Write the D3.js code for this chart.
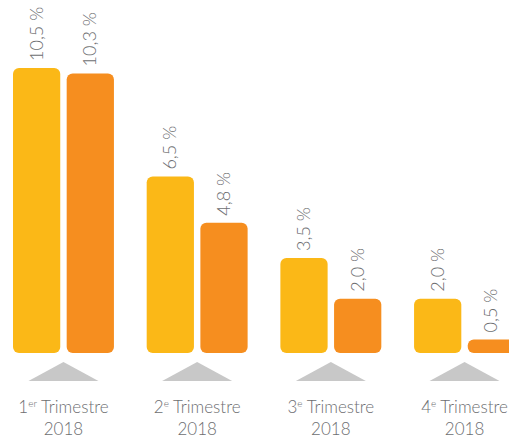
<!DOCTYPE html>
<html>
<head>
<meta charset="utf-8">
<script src="https://cdn.jsdelivr.net/npm/d3@7"></script>
<style>
  html, body { margin: 0; padding: 0; background: #fff; }
  svg { display: block; font-family: "Lato", "Open Sans", sans-serif; }
</style>
</head>
<body>
<svg id="chart" width="509" height="439"></svg>
<script>
// Quarterly rates, two series per quarter
const quarters = ["T1", "T2", "T3", "T4"];
const quarterNum = ["1", "2", "3", "4"];
const quarterSup = ["er", "e", "e", "e"];
const quarterYear = ["2018", "2018", "2018", "2018"];
const seriesKeys = ["a", "b"];
const seriesA = [10.5, 6.5, 3.5, 2.0];
const seriesB = [10.3, 4.8, 2.0, 0.5];
const seriesColors = ["#FBB817", "#F68E1F"];

const svg = d3.select("#chart");
const baseY = 353;

const x = d3.scaleBand().domain(quarters).range([13, 515]).paddingInner(0.245).paddingOuter(0);
const xs = d3.scaleBand().domain(seriesKeys).range([0, x.bandwidth()]).paddingInner(0.12);
const y = d3.scaleLinear().domain([0, 10.5]).range([baseY, 68]);

const rows = quarters.map((q, i) => ({
  q, i,
  values: [
    { key: "a", v: seriesA[i], color: seriesColors[0] },
    { key: "b", v: seriesB[i], color: seriesColors[1] }
  ]
}));

const g = svg.selectAll("g.quarter").data(rows).join("g")
  .attr("class", "quarter")
  .attr("transform", d => `translate(${x(d.q)},0)`);

// bars
g.selectAll("rect").data(d => d.values).join("rect")
  .attr("x", d => xs(d.key))
  .attr("y", d => y(d.v))
  .attr("width", xs.bandwidth())
  .attr("height", d => baseY - y(d.v))
  .attr("rx", 6).attr("ry", 6)
  .attr("fill", d => d.color);

// value labels, rotated
g.selectAll("text.val").data(d => d.values).join("text")
  .attr("class", "val")
  .attr("transform", d => `translate(${xs(d.key) + xs.bandwidth() / 2 + 6},${y(d.v) - 7}) rotate(-90)`)
  .attr("text-anchor", "start")
  .attr("font-size", 18)
  .attr("font-weight", 300)
  .attr("fill", "#6d6e71")
  .text(d => d.v.toFixed(1).replace(".", ",") + " %");

// pointer triangles
const cx = x.bandwidth() / 2;
g.append("path")
  .attr("d", `M${cx - 35},381 L${cx},362 L${cx + 35},381 Z`)
  .attr("fill", "#c8c8c8");

// quarter labels
const lbl = g.append("text")
  .attr("x", cx)
  .attr("y", 413)
  .attr("text-anchor", "middle")
  .attr("font-size", 17)
  .attr("font-weight", 300)
  .attr("fill", "#6d6e71");
lbl.append("tspan").text(d => quarterNum[d.i]);
lbl.append("tspan").attr("font-size", 10).attr("dy", -6).text(d => quarterSup[d.i]);
lbl.append("tspan").attr("dy", 6).text(" Trimestre");

g.append("text")
  .attr("x", cx)
  .attr("y", 435)
  .attr("text-anchor", "middle")
  .attr("font-size", 17)
  .attr("font-weight", 300)
  .attr("fill", "#6d6e71")
  .text(d => quarterYear[d.i]);
</script>
</body>
</html>
